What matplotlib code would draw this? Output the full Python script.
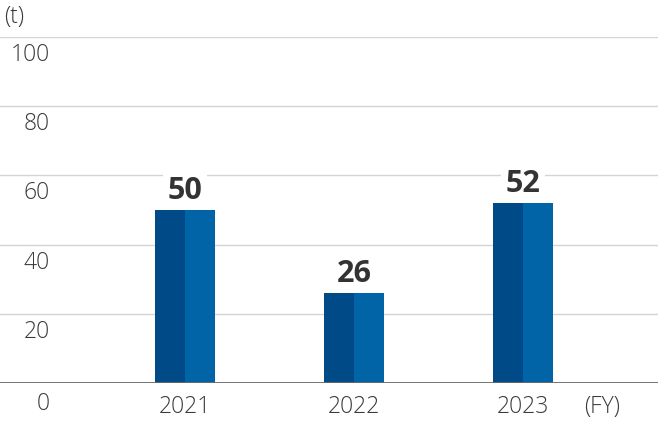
import matplotlib
matplotlib.use("Agg")
import matplotlib.pyplot as plt
from matplotlib.transforms import offset_copy

years = ["2021", "2022", "2023"]
values = [50, 26, 52]
yticks = [0, 20, 40, 60, 80, 100]
unit_label = "(t)"
x_unit_label = "(FY)"

dark = "#004a87"
light = "#0064a6"
grid_c = "#d4d4d4"
text_c = "#3a3a3a"

plt.rcParams["font.family"] = ["Open Sans", "DejaVu Sans"]

dpi = 100
fig = plt.figure(figsize=(6.58, 4.40), dpi=dpi)
ax = fig.add_axes([0, 57 / 440, 1, 346 / 440])
ax.set_xlim(-185 / 169, 2 + 135 / 169)
ax.set_ylim(0, 100)
ax.axis("off")

# gridlines
for t in yticks[1:]:
    ax.axhline(t, color=grid_c, lw=1.0, zorder=0)
ax.axhline(0, color="#6a6a6a", lw=1.3, zorder=3)

w = 60 / 169
pos = list(range(len(years)))
ax.bar([p - w / 4 for p in pos], values, width=w / 2, color=dark, zorder=2)
ax.bar([p + w / 4 for p in pos], values, width=w / 2, color=light, zorder=2)

# value labels
for p, v in zip(pos, values):
    tr = offset_copy(ax.transData, fig=fig, x=0, y=19 * 72 / dpi, units="points")
    ax.text(p, v, str(v), transform=tr, ha="center", va="center",
            fontsize=22, fontweight="bold", color="#333333", zorder=4,
            bbox=dict(facecolor="white", edgecolor="none", pad=3))

# y tick labels (placed below each gridline)
ytr = ax.get_yaxis_transform()
for t in yticks:
    off = 21 if t == 0 else 18
    tr = offset_copy(ytr, fig=fig, x=0, y=-off * 72 / dpi, units="points")
    ax.text(50 / 658, t, str(t), transform=tr, ha="right", va="center",
            fontsize=16.5, fontweight="light", color=text_c)

# x labels
xtr = offset_copy(ax.get_xaxis_transform(), fig=fig, x=0, y=-24 * 72 / dpi, units="points")
for p, y in zip(pos, years):
    ax.text(p, 0, y, transform=xtr, ha="center", va="center", fontsize=16.5,
            fontweight="light", color=text_c)
ax.text(2.47, 0, x_unit_label, transform=xtr, ha="center", va="center",
        fontsize=16.5, fontweight="light", color=text_c)

fig.text(4 / 658, 1 - 17 / 440, unit_label, ha="left", va="center",
         fontsize=16.5, fontweight="light", color=text_c)

fig.savefig("out.png", dpi=dpi)
